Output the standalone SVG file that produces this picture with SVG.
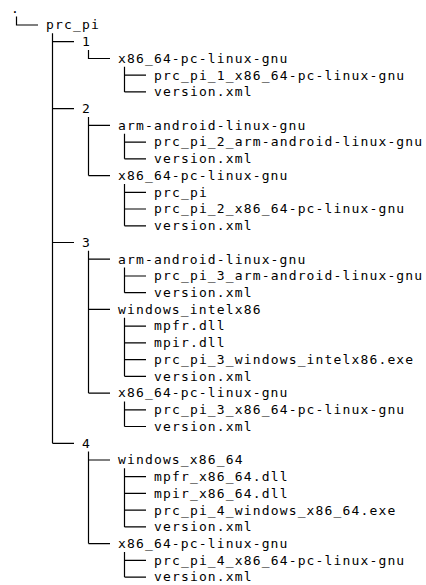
<svg xmlns="http://www.w3.org/2000/svg" width="426" height="585" viewBox="0 0 426 585">
<style>
text{font-family:"DejaVu Sans Mono","Liberation Mono",monospace;font-size:13px;letter-spacing:1.15px;fill:#000}
.c{fill:none;stroke:#000;stroke-width:1.2}
</style>
<rect width="426" height="585" fill="#fff"/>
<g id="connectors" class="c">
<path d="M16.5,16.6V25H38"/>
<path d="M52.5,33.3V443.3M52.5,41.7H74M52.5,108.7H74M52.5,242.5H74M52.5,443.3H74"/>
<path d="M88.5,50.1V58.5H110"/>
<path d="M124.5,66.8V91.9M124.5,75.2H146M124.5,91.9H146"/>
<path d="M88.5,117V175.6M88.5,125.4H110M88.5,175.6H110"/>
<path d="M124.5,133.7V158.8M124.5,142.1H146M124.5,158.8H146"/>
<path d="M124.5,183.9V225.8M124.5,192.3H146M124.5,209H146M124.5,225.8H146"/>
<path d="M88.5,250.8V393.1M88.5,259.2H110M88.5,309.4H110M88.5,393.1H110"/>
<path d="M124.5,267.6V292.7M124.5,276H146M124.5,292.7H146"/>
<path d="M124.5,317.8V376.3M124.5,326.1H146M124.5,342.9H146M124.5,359.6H146M124.5,376.3H146"/>
<path d="M124.5,401.4V426.5M124.5,409.8H146M124.5,426.5H146"/>
<path d="M88.5,451.6V543.6M88.5,460H110M88.5,543.6H110"/>
<path d="M124.5,468.3V526.9M124.5,476.7H146M124.5,493.4H146M124.5,510.2H146M124.5,526.9H146"/>
<path d="M124.5,552V577.1M124.5,560.4H146M124.5,577.1H146"/>
</g>
<g id="n-root"><text x="11" y="12.6">.</text></g>
<g id="n-prc_pi"><text x="46" y="29.3">prc_pi</text></g>
<g id="n-1"><text x="82" y="46">1</text></g>
<g id="n-1-x86"><text x="118" y="62.8">x86_64-pc-linux-gnu</text></g>
<g id="n-1-x86-bin"><text x="154" y="79.5">prc_pi_1_x86_64-pc-linux-gnu</text></g>
<g id="n-1-x86-ver"><text x="154" y="96.2">version.xml</text></g>
<g id="n-2"><text x="82" y="113">2</text></g>
<g id="n-2-arm"><text x="118" y="129.7">arm-android-linux-gnu</text></g>
<g id="n-2-arm-bin"><text x="154" y="146.4">prc_pi_2_arm-android-linux-gnu</text></g>
<g id="n-2-arm-ver"><text x="154" y="163.1">version.xml</text></g>
<g id="n-2-x86"><text x="118" y="179.9">x86_64-pc-linux-gnu</text></g>
<g id="n-2-x86-prc"><text x="154" y="196.6">prc_pi</text></g>
<g id="n-2-x86-bin"><text x="154" y="213.3">prc_pi_2_x86_64-pc-linux-gnu</text></g>
<g id="n-2-x86-ver"><text x="154" y="230.1">version.xml</text></g>
<g id="n-3"><text x="82" y="246.8">3</text></g>
<g id="n-3-arm"><text x="118" y="263.5">arm-android-linux-gnu</text></g>
<g id="n-3-arm-bin"><text x="154" y="280.3">prc_pi_3_arm-android-linux-gnu</text></g>
<g id="n-3-arm-ver"><text x="154" y="297">version.xml</text></g>
<g id="n-3-win"><text x="118" y="313.7">windows_intelx86</text></g>
<g id="n-3-win-mpfr"><text x="154" y="330.4">mpfr.dll</text></g>
<g id="n-3-win-mpir"><text x="154" y="347.2">mpir.dll</text></g>
<g id="n-3-win-exe"><text x="154" y="363.9">prc_pi_3_windows_intelx86.exe</text></g>
<g id="n-3-win-ver"><text x="154" y="380.6">version.xml</text></g>
<g id="n-3-x86"><text x="118" y="397.4">x86_64-pc-linux-gnu</text></g>
<g id="n-3-x86-bin"><text x="154" y="414.1">prc_pi_3_x86_64-pc-linux-gnu</text></g>
<g id="n-3-x86-ver"><text x="154" y="430.8">version.xml</text></g>
<g id="n-4"><text x="82" y="447.6">4</text></g>
<g id="n-4-win"><text x="118" y="464.3">windows_x86_64</text></g>
<g id="n-4-win-mpfr"><text x="154" y="481">mpfr_x86_64.dll</text></g>
<g id="n-4-win-mpir"><text x="154" y="497.7">mpir_x86_64.dll</text></g>
<g id="n-4-win-exe"><text x="154" y="514.5">prc_pi_4_windows_x86_64.exe</text></g>
<g id="n-4-win-ver"><text x="154" y="531.2">version.xml</text></g>
<g id="n-4-x86"><text x="118" y="547.9">x86_64-pc-linux-gnu</text></g>
<g id="n-4-x86-bin"><text x="154" y="564.7">prc_pi_4_x86_64-pc-linux-gnu</text></g>
<g id="n-4-x86-ver"><text x="154" y="581.4">version.xml</text></g>
</svg>
